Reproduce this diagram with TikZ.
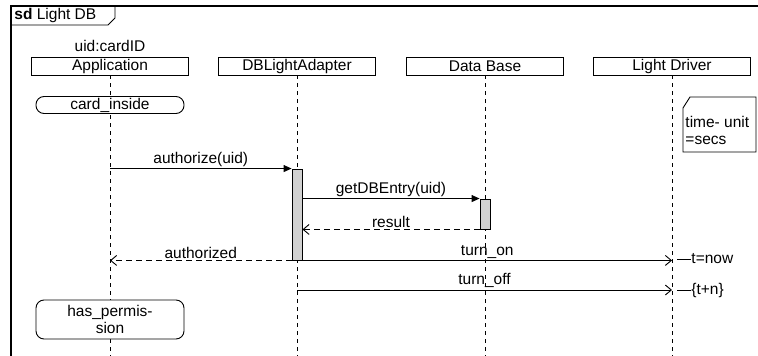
\documentclass[tikz,border=0pt]{standalone}
\usepackage{fontspec}
\setmainfont{Liberation Sans}
\usetikzlibrary{arrows.meta}

\tikzset{
  lifehead/.style={draw, minimum width=157pt, minimum height=18pt, inner sep=0pt},
  lifeline/.style={dash pattern=on 4pt off 4pt},
  actbar/.style={draw, fill=black!18, minimum width=10pt, inner sep=0pt},
  stateinv/.style={draw, fill=white, rounded corners=8pt, minimum width=148pt, inner sep=1pt, align=center},
  synccall/.style={-{Triangle[length=8pt,width=7pt]}},
  replymsg/.style={dash pattern=on 6pt off 4pt, -{Straight Barb[length=6pt,width=10pt]}},
  asyncmsg/.style={-{Straight Barb[length=6pt,width=10pt]}},
  msglabel/.style={above, inner sep=1.5pt},
}

\begin{document}
\begin{tikzpicture}[x=1pt, y=-1pt, line width=0.9pt, font=\fontsize{15.5}{17}\selectfont]
  \useasboundingbox (0,0) rectangle (758,356);
  \coordinate (bot) at (0,356);
  % frame and tab
  \draw[line width=1.2pt] (11,356) -- (11,6) -- (758,6);
  \draw (11,25) -- (108,25) -- (115,18) -- (115,6);
  \node[anchor=west, inner sep=0pt] (title) at (14,15) {\textbf{sd} Light DB};
  % lifelines
  \node (uid) at (110,46) {uid:cardID};
  \node[lifehead] (app) at (110,66) {Application};
  \node[lifehead] (adp) at (297,66) {DBLightAdapter};
  \node[lifehead] (db) at (485,66) {Data Base};
  \node[lifehead] (drv) at (672,66) {Light Driver};
  \foreach \n in {app,adp,db,drv}
    \draw[lifeline] (\n.south) -- (\n.south |- bot);
  % state invariants
  \node[stateinv, minimum height=17pt] (cardin) at (110,105) {card\_inside};
  \node[stateinv, minimum height=39pt] (perm) at (110,319.5) {has\_permis-\\sion};
  % note
  \draw[fill=white] (683,108) -- (690,97) -- (756,97) -- (756,152) -- (683,152) -- cycle;
  \node[anchor=west, inner sep=0pt] (note1) at (685,122) {time- unit};
  \node[anchor=west, inner sep=0pt] (note2) at (685,140) {=secs};
  % activations
  \node[actbar, minimum height=91pt] (actA) at (297,214.5) {};
  \node[actbar, minimum height=30pt] (actB) at (485,214) {};
  % messages
  \draw[synccall] (app.south |- actA.north) -- node[msglabel] {authorize(uid)} (actA.north west);
  \draw[synccall] (actA.east |- actB.north) -- node[msglabel] {getDBEntry(uid)} (actB.north west);
  \draw[replymsg] (actB.south west) -- node[msglabel] {result} (actA.east |- actB.south);
  \draw[replymsg] (actA.south west) -- node[msglabel] {authorized} (app.south |- actA.south);
  \draw[asyncmsg] (actA.south east) -- node[msglabel] {turn\_on} (drv.south |- actA.south);
  \coordinate (offstart) at (297,290);
  \draw[asyncmsg] (offstart) -- node[msglabel] {turn\_off} (drv.south |- offstart);
  % timing
  \node[anchor=west, inner sep=0pt] (tnow) at (691,259) {t=now};
  \node[anchor=west, inner sep=0pt] (tn) at (691,290) {\{t+n\}};
  \coordinate (tnowtick) at (677,259);
  \coordinate (tntick) at (677,290);
  \draw (tnowtick) -- (tnow.west);
  \draw (tntick) -- (tn.west);
\end{tikzpicture}
\end{document}
